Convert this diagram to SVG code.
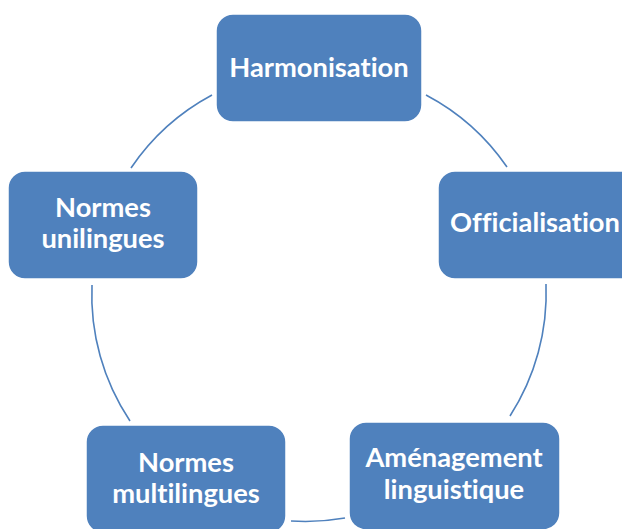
<svg xmlns="http://www.w3.org/2000/svg" width="622" height="529" viewBox="0 0 622 529">
<style>
.box{fill:#4F81BD;stroke:#FFFFFF;stroke-width:1.5}
.lbl{font-family:Lato,"Open Sans","Liberation Sans",sans-serif;font-weight:bold;font-size:27.3px;fill:#FFFFFF;text-anchor:middle;font-variant-ligatures:none}
.arc{fill:none;stroke:#4F81BD;stroke-width:1.6}
</style>
<rect width="622" height="529" fill="#FFFFFF"/>
<g id="connectors">
<path class="arc" d="M131,168 A227,227 0 0 1 212,95"/>
<path class="arc" d="M426,95 A227,227 0 0 1 507,167"/>
<path class="arc" d="M546,284 A227,227 0 0 1 510,416"/>
<path class="arc" d="M345,518 A227,227 0 0 1 291,521"/>
<path class="arc" d="M130,421 A227,227 0 0 1 92,285"/>
</g>
<g id="harmonisation">
<rect class="box" x="216" y="14" width="206" height="108" rx="17"/>
<text class="lbl" x="319" y="77">Harmonisation</text>
</g>
<g id="officialisation">
<rect class="box" x="438" y="171" width="206" height="108" rx="17"/>
<text class="lbl" x="535" y="232">Officialisation</text>
</g>
<g id="amenagement">
<rect class="box" x="349" y="422" width="211" height="108" rx="17"/>
<text class="lbl" x="454" y="467">Aménagement</text>
<text class="lbl" x="454" y="499">linguistique</text>
</g>
<g id="multilingues">
<rect class="box" x="86" y="425" width="200" height="108" rx="17"/>
<text class="lbl" x="186" y="472">Normes</text>
<text class="lbl" x="186" y="503">multilingues</text>
</g>
<g id="unilingues">
<rect class="box" x="8" y="171" width="190" height="108" rx="17"/>
<text class="lbl" x="103" y="217">Normes</text>
<text class="lbl" x="103" y="248">unilingues</text>
</g>
</svg>
